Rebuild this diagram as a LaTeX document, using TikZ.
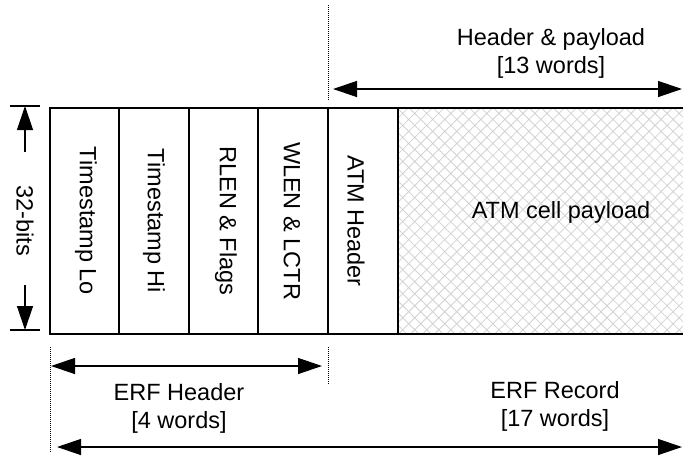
\documentclass[tikz,border=0pt]{standalone}
\usepackage{fontspec}
\setmainfont{Liberation Sans}
\usetikzlibrary{arrows.meta,patterns.meta}

\begin{document}
\begin{tikzpicture}[x=1pt,y=-1pt,
    every node/.style={font=\fontsize{23.5}{28}\selectfont,align=center,inner sep=0pt},
    field/.style={rotate=-90},
    dimarrow/.style={{Triangle[length=24pt,width=16pt]}-{Triangle[length=24pt,width=16pt]},line width=1.3pt},
    tickarrow/.style={-{Triangle[length=24pt,width=16pt]},line width=1.3pt},
    guide/.style={densely dotted,line width=1pt}]
  \useasboundingbox (0,0) rectangle (683,456);
  \fill[pattern={Hatch[angle=45,distance=8.5pt,line width=0.8pt]},pattern color=gray!35]
    (398,108) rectangle (700,334);
  \draw[line width=1.2pt] (50,108) rectangle (700,334);
  \foreach \x in {119,189,258,328}
    \draw[line width=1.2pt] (\x,108) -- (\x,334);
  \draw[line width=2pt] (398,108) -- (398,334);

  \node[field] (tslo) at (86,221) {Timestamp Lo};
  \node[field] (tshi) at (154,221) {Timestamp Hi};
  \node[field] (rlen) at (226,221) {RLEN \& Flags};
  \node[field] (wlen) at (292,221) {WLEN \& LCTR};
  \node[field] (atm) at (356,221) {ATM Header};
  \node (payload) at (561,212) {ATM cell payload};

  \node[field] (bits) at (25,221) {32-bits};
  \coordinate (bitstop) at (25,106);
  \coordinate (bitsbot) at (25,330);
  \draw[line width=1.2pt] (10,106) -- (40,106) (10,330) -- (40,330);
  \draw[tickarrow] (25,152) -- (bitstop);
  \draw[tickarrow] (25,285) -- (bitsbot);

  \coordinate (g1a) at (50,347);  \coordinate (g1b) at (50,452);
  \coordinate (g2a) at (328,347); \coordinate (g2b) at (328,384);
  \coordinate (g3a) at (328,5);   \coordinate (g3b) at (328,100);
  \draw[guide] (g1a) -- (g1b);
  \draw[guide] (g2a) -- (g2b);
  \draw[guide] (g3a) -- (g3b);

  \coordinate (hdrl) at (51,366);  \coordinate (hdrr) at (322,366);
  \coordinate (hpl) at (333,89);   \coordinate (hpr) at (682,89);
  \coordinate (recl) at (57,447);  \coordinate (recr) at (682,447);
  \draw[dimarrow] (hdrl) -- (hdrr);
  \draw[dimarrow] (hpl) -- (hpr);
  \draw[dimarrow] (recl) -- (recr);

  \node (erfhdr) at (179,408) {ERF Header\\\relax[4 words]};
  \node (erfrec) at (555,406) {ERF Record\\\relax[17 words]};
  \node (hdrpay) at (551,53) {Header \& payload\\\relax[13 words]};
\end{tikzpicture}
\end{document}
